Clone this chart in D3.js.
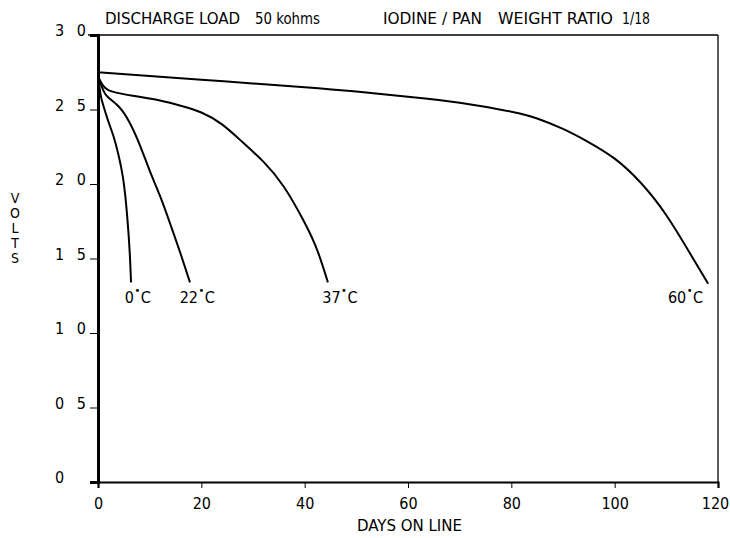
<!DOCTYPE html>
<html><head><meta charset="utf-8">
<script src="https://cdn.jsdelivr.net/npm/d3@7"></script>
<style>
html,body{margin:0;padding:0;background:#fff;}
text{font-family:"DejaVu Sans Condensed","DejaVu Sans",sans-serif;font-stretch:condensed;fill:#000;}
</style></head>
<body><svg id="c" width="730" height="538"></svg>
<script>
// ---- data ----
const xTicks = [0, 20, 40, 60, 80, 100, 120];
const yTicks = [0, 5, 10, 15, 20, 25, 30];
const yTickLabels = ["0", "0 5", "1 0", "1 5", "2 0", "2 5", "3 0"];
const seriesNames = ["0", "22", "37", "60"];
const days0  = [0, 0.5, 1, 2, 3, 4, 4.8, 5.4, 5.9, 6.2, 6.4];
const volts0 = [27.2, 26.0, 25.3, 24.2, 23.2, 21.9, 20.5, 18.8, 16.7, 15.0, 13.4];
const days22  = [0, 1, 2, 4, 6, 8, 10, 12, 14, 16, 17.8];
const volts22 = [27.2, 26.3, 25.8, 25.2, 24.2, 22.7, 20.9, 19.2, 17.3, 15.3, 13.4];
const days37  = [0, 1, 2, 4, 8, 12, 16, 20, 24, 28, 32, 36, 40, 42.5, 44.5];
const volts37 = [27.2, 26.6, 26.3, 26.1, 25.85, 25.6, 25.25, 24.8, 24.0, 22.8, 21.5, 19.8, 17.4, 15.5, 13.4];
const days60  = [0, 20, 40, 50, 60, 70, 80, 85, 90, 95, 100, 105, 110, 115, 118.1];
const volts60 = [27.5, 27.0, 26.5, 26.2, 25.85, 25.45, 24.85, 24.4, 23.7, 22.8, 21.7, 20.1, 17.9, 15.1, 13.3];
const labelDays = [5.2, 15.8, 43.4, 110.3];
const labelVolt = 12.0;

const svg = d3.select("#c");
const x = d3.scaleLinear().domain([0, 120]).range([98, 718]);
const y = d3.scaleLinear().domain([0, 30]).range([482, 35]);

// frame
svg.append("line").attr("x1", 88).attr("x2", x(120)).attr("y1", y(30)).attr("y2", y(30)).attr("stroke", "#000").attr("stroke-width", 1.3);
svg.append("line").attr("x1", x(120)).attr("x2", x(120)).attr("y1", y(30)).attr("y2", y(0)).attr("stroke", "#000").attr("stroke-width", 1.3);

// x axis
const gx = svg.append("g").attr("transform", `translate(0,${y(0)})`)
  .call(d3.axisBottom(x).tickValues(xTicks).tickSize(6).tickPadding(10).tickFormat(d => d));
gx.select(".domain").attr("stroke-width", 2.2);
gx.selectAll("text").attr("font-size", 16).attr("font-family", null);
gx.selectAll("text").filter(d => d === 120).attr("dx", -3);

// y axis
const gy = svg.append("g").attr("transform", `translate(${x(0)},0)`)
  .call(d3.axisLeft(y).tickValues(yTicks).tickSize(8).tickFormat(""));
gy.select(".domain").attr("stroke-width", 3);
svg.append("g").selectAll("text").data(yTicks).join("text")
  .attr("x", 55).attr("y", d => y(d) + 1)
  .attr("font-size", 16).attr("letter-spacing", 4)
  .text((d, i) => yTickLabels[i]);

// curves
const line = d3.line().x(d => x(d[0])).y(d => y(d[1])).curve(d3.curveNatural);
const series = [[days0, volts0], [days22, volts22], [days37, volts37], [days60, volts60]];
series.forEach(([ds, vs]) => {
  svg.append("path").datum(ds.map((d, i) => [d, vs[i]]))
    .attr("d", line).attr("fill", "none").attr("stroke", "#000").attr("stroke-width", 2);
});

// curve labels
seriesNames.forEach((n, i) => {
  const t = svg.append("text").attr("x", x(labelDays[i])).attr("y", y(labelVolt)).attr("font-size", 16);
  t.append("tspan").text(n);
  t.append("tspan").text("•").attr("font-size", 11).attr("dy", -9).attr("dx", 0.5);
  t.append("tspan").text("C").attr("dy", 9).attr("dx", 0.5);
});

// title
const titleParts = [["DISCHARGE LOAD", 105, 135], ["50 kohms", 255, 65], ["IODINE / PAN", 383, 99], ["WEIGHT RATIO", 498, 115], ["1/18", 622, 28]];
titleParts.forEach(([t, px, w]) => {
  svg.append("text").attr("x", px).attr("y", 24).attr("font-size", 16)
    .attr("textLength", w).attr("lengthAdjust", "spacingAndGlyphs").text(t);
});

// axis titles
svg.append("text").attr("x", 357).attr("y", 531).attr("font-size", 16)
  .attr("textLength", 105).attr("lengthAdjust", "spacingAndGlyphs").text("DAYS  ON  LINE");
["V", "O", "L", "T", "S"].forEach((c, i) => {
  svg.append("text").attr("x", 15).attr("y", 203 + i * 15).attr("text-anchor", "middle").attr("font-size", 14).text(c);
});
</script></body></html>
